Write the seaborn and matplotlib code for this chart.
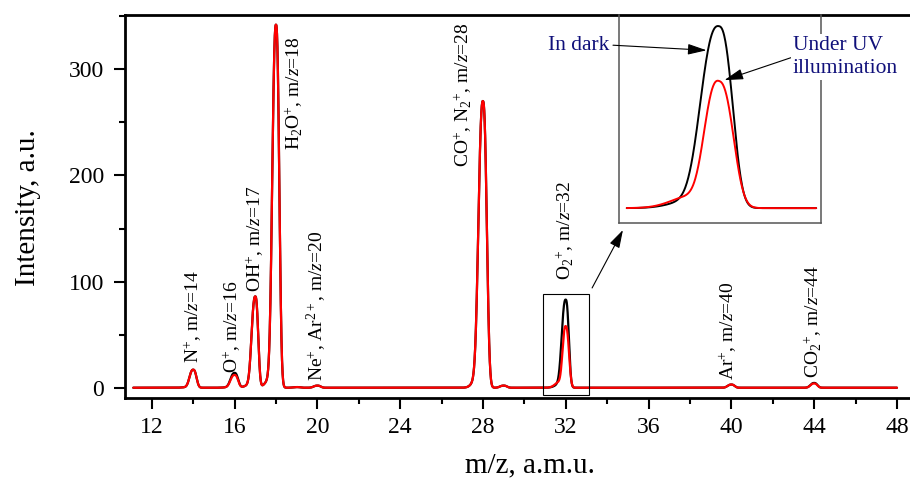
import numpy as np
import pandas as pd
import matplotlib
matplotlib.use("Agg")
import matplotlib.pyplot as plt
import seaborn as sns
from matplotlib.patches import Rectangle
from matplotlib.ticker import MultipleLocator

# ---- peak table of the two mass spectra ----
peak_mz = [14, 16, 17, 18, 19, 20, 28, 29, 32, 40, 44]
dark_height = [17, 14, 86, 342, 0.6, 2, 270, 2, 83, 3, 4.5]
uv_height = [17, 12, 86, 342, 0.6, 2, 270, 2, 58, 3, 4]
# half widths (a.m.u.) on the low / high mass side of each peak
dark_left_hw = [0.20, 0.22, 0.20, 0.20, 0.20, 0.20, 0.24, 0.20, 0.215, 0.20, 0.20]
uv_left_hw = [0.20, 0.22, 0.20, 0.20, 0.20, 0.20, 0.24, 0.20, 0.170, 0.20, 0.20]
dark_right_hw = [0.17, 0.18, 0.15, 0.17, 0.17, 0.17, 0.20, 0.17, 0.160, 0.17, 0.17]
uv_right_hw = [0.17, 0.18, 0.15, 0.17, 0.17, 0.17, 0.20, 0.17, 0.170, 0.17, 0.17]
# low-mass shoulder amplitude of each peak
dark_tail = [0.5, 0.4, 2.5, 8, 0, 0, 8, 0, 3.5, 0, 0]
uv_tail = [0.5, 0.4, 2.5, 8, 0, 0, 8, 0, 5.5, 0, 0]

series_names = ["In dark", "Under UV illumination"]

# ---- peak assignments ----
label_ions = [r"N$^{+}$", r"O$^{+}$", r"OH$^{+}$", r"H$_{2}$O$^{+}$",
              r"Ne$^{+}$, Ar$^{2+}$", r"CO$^{+}$, N$_{2}$$^{+}$",
              r"O$_{2}$$^{+}$", r"Ar$^{+}$", r"CO$_{2}$$^{+}$"]
label_mz = [14, 16, 17, 18, 20, 28, 32, 40, 44]

# scan range and zoom window
scan_start, scan_end, scan_step = 11.1, 48.0, 0.004
zoom_x = (30.92, 33.10)
zoom_y = (-6.8, 88.1)
zoom_data = (31.0, 33.05)

mz = np.arange(scan_start, scan_end + scan_step / 2, scan_step)

TAIL_SHIFT, TAIL_HW, SHAPE_EXP = 0.3, 0.25, 2.5


def spectrum(heights, left_hw, right_hw, tails):
    """Sum of asymmetric peaks; each peak reaches its tabulated height."""
    y = np.zeros_like(mz)
    tail_at_top = np.exp(-np.log(2) * (TAIL_SHIFT / TAIL_HW) ** 2)
    for c, h, lw, rw, t in zip(peak_mz, heights, left_hw, right_hw, tails):
        d = mz - c
        w = np.where(d < 0, lw, rw)
        main = h - t * tail_at_top
        y += main * np.exp(-np.log(2) * (np.abs(d) / w) ** SHAPE_EXP)
        y += t * np.exp(-np.log(2) * ((d + TAIL_SHIFT) / TAIL_HW) ** 2)
    return y


df = pd.concat([
    pd.DataFrame({"m/z": mz,
                  "Intensity": spectrum(dark_height, dark_left_hw, dark_right_hw, dark_tail),
                  "Spectrum": series_names[0]}),
    pd.DataFrame({"m/z": mz,
                  "Intensity": spectrum(uv_height, uv_left_hw, uv_right_hw, uv_tail),
                  "Spectrum": series_names[1]}),
], ignore_index=True)

sns.set_theme(style="ticks", rc={
    "axes.edgecolor": "black", "xtick.color": "black", "ytick.color": "black",
    "text.color": "black", "axes.labelcolor": "black",
})
plt.rcParams["font.family"] = ["Liberation Serif", "DejaVu Serif"]
plt.rcParams["mathtext.fontset"] = "custom"
plt.rcParams["mathtext.rm"] = "Liberation Serif"
plt.rcParams["mathtext.it"] = "Liberation Serif:italic"
plt.rcParams["mathtext.bf"] = "Liberation Serif:bold"

palette = {series_names[0]: "black", series_names[1]: "red"}

fig = plt.figure(figsize=(9.10, 4.79), dpi=100)
ax = fig.add_axes([0.13736, 0.16910, 0.86264, 0.79958])

sns.lineplot(data=df, x="m/z", y="Intensity", hue="Spectrum",
             hue_order=series_names, palette=palette, estimator=None,
             sort=False, legend=False, lw=1.6, ax=ax)

ax.set_xlim(10.70, 48.63)
ax.set_ylim(-9.7, 351.2)
ax.xaxis.set_major_locator(MultipleLocator(4))
ax.xaxis.set_minor_locator(MultipleLocator(2))
ax.yaxis.set_major_locator(MultipleLocator(100))
ax.yaxis.set_minor_locator(MultipleLocator(50))
ax.tick_params(which="major", direction="out", length=8, width=1.5,
               labelsize=17)
ax.tick_params(axis="x", which="major", pad=6)
ax.tick_params(axis="y", which="major", pad=7)
ax.tick_params(which="minor", direction="out", length=4.3, width=1.5)
for side in ("left", "bottom", "top"):
    ax.spines[side].set_linewidth(2)
    ax.spines[side].set_visible(True)
ax.spines["right"].set_visible(False)

ax.set_xlabel("m/z, a.m.u.", fontsize=21)
ax.set_ylabel("Intensity, a.u.", fontsize=21)
ax.xaxis.set_label_coords(0.516, -0.143)
ax.yaxis.set_label_coords(-0.1076, 0.497)

# peak assignments, written upwards next to each peak
label_pos = [(13.98, 23.5), (15.9, 14), (17.0, 90), (18.9, 224), (19.97, 6),
             (27.03, 208), (31.96, 101.6), (39.84, 7.5), (43.95, 9)]
for ion, m, (lx, ly) in zip(label_ions, label_mz, label_pos):
    ax.text(lx, ly, f"{ion}, m/$z$={m}", rotation=90, ha="center",
            va="bottom", fontsize=14)

# frame around the O2+ peak and pointer to the enlarged view
ax.add_patch(Rectangle((zoom_x[0], zoom_y[0]), zoom_x[1] - zoom_x[0],
                       zoom_y[1] - zoom_y[0], fill=False, ec="black",
                       lw=0.8, zorder=4))
ax.annotate("", xy=(34.76, 148.6), xytext=(33.27, 94),
            arrowprops=dict(arrowstyle="-|>,head_length=1.1,head_width=0.33",
                            color="black", lw=0.8, mutation_scale=10,
                            shrinkA=0, shrinkB=0))

# enlarged O2+ peak
ins = fig.add_axes([0.6802, 0.5344, 0.2220, 0.4343])
sub = df[(df["m/z"] >= zoom_data[0]) & (df["m/z"] <= zoom_data[1])]
sns.lineplot(data=sub, x="m/z", y="Intensity", hue="Spectrum",
             hue_order=series_names, palette=palette, estimator=None,
             sort=False, legend=False, lw=1.4, ax=ins)
ins.set_xlim(*zoom_x)
ins.set_ylim(*zoom_y)
ins.set_xticks([])
ins.set_yticks([])
ins.set_xlabel("")
ins.set_ylabel("")
ins.spines["top"].set_visible(False)
for side in ("left", "right", "bottom"):
    ins.spines[side].set_color("#555555")
    ins.spines[side].set_linewidth(1.1)
ins.patch.set_alpha(0)

navy = "#10107a"
arrow_kw = dict(arrowstyle="-|>,head_length=1.15,head_width=0.33",
                color="black", lw=0.8, mutation_scale=10, shrinkA=0, shrinkB=0)
ins.annotate(series_names[0], xy=(31.865, 72), xycoords="data",
             xytext=(0.670, 0.906), textcoords="figure fraction",
             ha="right", va="center", fontsize=15.5, color=navy,
             arrowprops=dict(relpos=(1.0, 0.5), **arrow_kw))
ins.annotate("Under UV\nillumination", xy=(32.058, 58.4), xycoords="data",
             xytext=(0.8714, 0.881), textcoords="figure fraction",
             ha="left", va="center", fontsize=15.5, color=navy,
             linespacing=1.25, multialignment="left",
             bbox=dict(boxstyle="square,pad=0.1", fc="white", ec="none"),
             arrowprops=dict(relpos=(0.0, 0.5), **arrow_kw))

fig.savefig("out.png", dpi=100)
